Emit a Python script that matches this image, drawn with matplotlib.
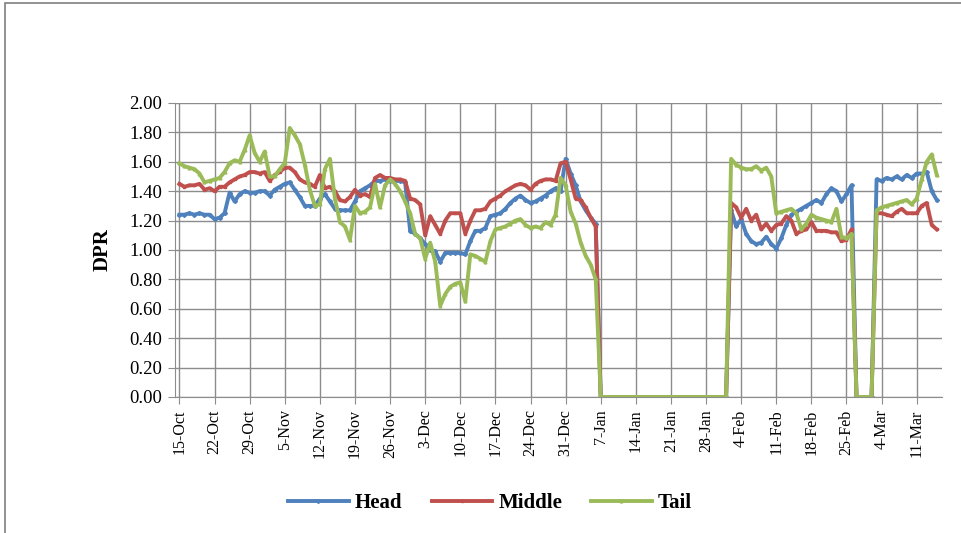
import numpy as np
import matplotlib
matplotlib.use('Agg')
import matplotlib.pyplot as plt
from matplotlib.patches import Rectangle

# daily DPR values, 15-Oct to 15-Mar
head = [1.24, 1.24, 1.25, 1.24, 1.25, 1.24, 1.24, 1.21, 1.22, 1.25,
        1.39, 1.33, 1.38, 1.40, 1.39, 1.39, 1.40, 1.40, 1.37, 1.41,
        1.43, 1.45, 1.46, 1.41, 1.36, 1.30, 1.30, 1.30, 1.35, 1.38,
        1.33, 1.28, 1.27, 1.27, 1.27, 1.33, 1.40, 1.42, 1.44, 1.47,
        1.47, 1.48, 1.47, 1.47, 1.47, 1.46, 1.13, 1.11, 1.08, 1.04,
        1.00, 0.99, 0.92, 0.98, 0.98, 0.98, 0.98, 0.97, 1.06, 1.13,
        1.13, 1.15, 1.23, 1.24, 1.25, 1.28, 1.32, 1.35, 1.37, 1.34,
        1.32, 1.33, 1.35, 1.37, 1.40, 1.42, 1.40, 1.62, 1.52, 1.44,
        1.33, 1.27, 1.22, 1.18, 0.00, 0.00, 0.00, 0.00, 0.00, 0.00,
        0.00, 0.00, 0.00, 0.00, 0.00, 0.00, 0.00, 0.00, 0.00, 0.00,
        0.00, 0.00, 0.00, 0.00, 0.00, 0.00, 0.00, 0.00, 0.00, 0.00,
        1.27, 1.16, 1.21, 1.11, 1.06, 1.04, 1.05, 1.09, 1.04, 1.01,
        1.08, 1.17, 1.24, 1.26, 1.28, 1.30, 1.32, 1.34, 1.32, 1.38,
        1.42, 1.40, 1.33, 1.38, 1.44, 0.00, 0.00, 0.00, 0.00, 1.48,
        1.47, 1.49, 1.48, 1.50, 1.48, 1.51, 1.49, 1.52, 1.52, 1.53,
        1.40, 1.34]

middle = [1.45, 1.43, 1.44, 1.44, 1.45, 1.41, 1.42, 1.40, 1.43, 1.43,
          1.46, 1.48, 1.50, 1.51, 1.53, 1.53, 1.52, 1.53, 1.47, 1.51,
          1.53, 1.56, 1.56, 1.53, 1.48, 1.46, 1.45, 1.43, 1.51, 1.42,
          1.43, 1.40, 1.34, 1.33, 1.36, 1.41, 1.37, 1.38, 1.36, 1.49,
          1.51, 1.49, 1.49, 1.48, 1.48, 1.47, 1.35, 1.34, 1.31, 1.10,
          1.23, 1.17, 1.11, 1.20, 1.25, 1.25, 1.25, 1.11, 1.20, 1.27,
          1.27, 1.28, 1.33, 1.35, 1.37, 1.40, 1.42, 1.44, 1.45, 1.44,
          1.41, 1.45, 1.47, 1.48, 1.48, 1.47, 1.59, 1.60, 1.48, 1.35,
          1.34, 1.29, 1.22, 1.16, 0.00, 0.00, 0.00, 0.00, 0.00, 0.00,
          0.00, 0.00, 0.00, 0.00, 0.00, 0.00, 0.00, 0.00, 0.00, 0.00,
          0.00, 0.00, 0.00, 0.00, 0.00, 0.00, 0.00, 0.00, 0.00, 0.00,
          1.32, 1.29, 1.22, 1.28, 1.20, 1.24, 1.14, 1.18, 1.13, 1.17,
          1.18, 1.23, 1.20, 1.11, 1.13, 1.14, 1.19, 1.13, 1.13, 1.13,
          1.12, 1.12, 1.06, 1.07, 1.14, 0.00, 0.00, 0.00, 0.00, 1.25,
          1.25, 1.24, 1.23, 1.26, 1.28, 1.25, 1.25, 1.25, 1.30, 1.32,
          1.17, 1.14]

tail = [1.59, 1.57, 1.56, 1.55, 1.52, 1.46, 1.47, 1.48, 1.49, 1.53,
        1.59, 1.61, 1.60, 1.68, 1.78, 1.66, 1.60, 1.67, 1.50, 1.50,
        1.55, 1.59, 1.83, 1.78, 1.72, 1.58, 1.41, 1.30, 1.31, 1.55,
        1.62, 1.35, 1.19, 1.16, 1.07, 1.30, 1.25, 1.26, 1.29, 1.45,
        1.29, 1.44, 1.48, 1.45, 1.40, 1.33, 1.25, 1.11, 1.08, 0.94,
        1.05, 0.92, 0.62, 0.70, 0.75, 0.77, 0.78, 0.65, 0.97, 0.96,
        0.94, 0.92, 1.06, 1.14, 1.15, 1.16, 1.18, 1.20, 1.21, 1.17,
        1.15, 1.16, 1.15, 1.19, 1.17, 1.24, 1.49, 1.44, 1.26, 1.18,
        1.05, 0.96, 0.90, 0.80, 0.00, 0.00, 0.00, 0.00, 0.00, 0.00,
        0.00, 0.00, 0.00, 0.00, 0.00, 0.00, 0.00, 0.00, 0.00, 0.00,
        0.00, 0.00, 0.00, 0.00, 0.00, 0.00, 0.00, 0.00, 0.00, 0.00,
        1.62, 1.58, 1.56, 1.55, 1.55, 1.57, 1.54, 1.56, 1.50, 1.25,
        1.26, 1.27, 1.28, 1.25, 1.14, 1.18, 1.24, 1.22, 1.21, 1.20,
        1.19, 1.28, 1.09, 1.08, 1.11, 0.00, 0.00, 0.00, 0.00, 1.27,
        1.29, 1.30, 1.31, 1.32, 1.33, 1.34, 1.31, 1.35, 1.48, 1.60,
        1.65, 1.51]

tick_labels = ['15-Oct', '22-Oct', '29-Oct', '5-Nov', '12-Nov', '19-Nov',
               '26-Nov', '3-Dec', '10-Dec', '17-Dec', '24-Dec', '31-Dec',
               '7-Jan', '14-Jan', '21-Jan', '28-Jan', '4-Feb', '11-Feb',
               '18-Feb', '25-Feb', '4-Mar', '11-Mar']

plt.rcParams['font.family'] = ['Liberation Serif', 'DejaVu Serif']

days = np.arange(len(head))
tick_pos = np.arange(len(tick_labels)) * 7

fig = plt.figure(figsize=(9.61, 5.33), dpi=100)
ax = fig.add_axes([0.182, 0.2552, 0.798, 0.5516])

ax.plot(days, head, color='#4F81BD', lw=2.8, marker='D', ms=2, label='Head')
ax.plot(days, middle, color='#C0504D', lw=2.8, marker='s', ms=2, label='Middle')
ax.plot(days, tail, color='#9BBB59', lw=2.8, marker='^', ms=2, label='Tail')

ax.set_xlim(-0.9, 152)
ax.set_ylim(0, 2.0)
ax.set_yticks(np.arange(0, 2.01, 0.2))
ax.set_yticklabels([f'{v:.2f}' for v in np.arange(0, 2.01, 0.2)], fontsize=13.5)
ax.set_xticks(tick_pos)
ax.set_xticklabels(tick_labels, rotation=90, fontsize=11.5)
ax.grid(True, color='#8c8c8c', lw=1)
ax.set_axisbelow(True)
for s in ['top', 'right']:
    ax.spines[s].set_visible(False)
for s in ['left', 'bottom']:
    ax.spines[s].set_color('#8c8c8c')
ax.tick_params(axis='both', color='#8c8c8c', length=5, pad=4)
ax.set_ylabel('DPR', fontsize=15, fontweight='bold', labelpad=12)

fig.legend(loc='center', bbox_to_anchor=(0.51, 0.056), ncol=3, frameon=False,
           prop={'size': 15, 'weight': 'bold'}, handlelength=2.9,
           columnspacing=1.4, handletextpad=0.3)

# outer chart border
fig.patches.append(Rectangle((5 / 961, -0.1), 1.2, 1 - 3 / 533 + 0.1,
                             transform=fig.transFigure, fill=False,
                             edgecolor='#7f7f7f', lw=1.2))

fig.savefig('out.png', dpi=100)
